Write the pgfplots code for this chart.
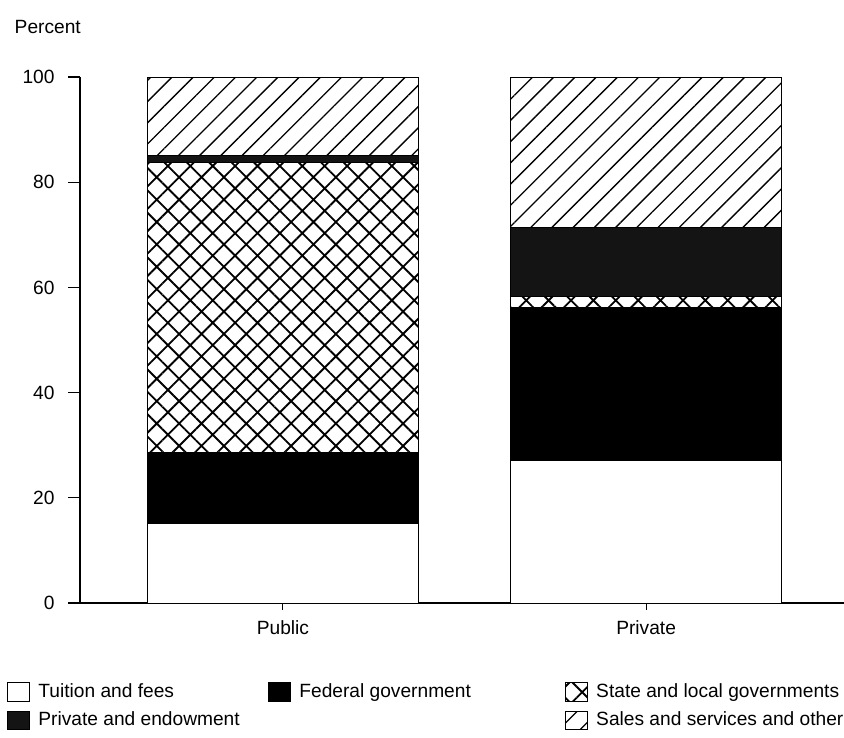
\documentclass[border=0pt]{standalone}
\usepackage{fontspec}
\setmainfont{Liberation Sans}
\usepackage{pgfplots}
\usepackage{pgfplotstable}
\pgfplotsset{compat=1.18}
\usetikzlibrary{patterns.meta}

\pgfplotstableread{
x tuition federal state private sales
0 15.2 13.5 55.1 1.2 15.0
1 27.0 29.1 2.1 13.1 28.7
}\datatable

\begin{document}
\fontsize{11.5}{13.8}\selectfont
\begin{tikzpicture}
\begin{axis}[at={(0,0)}, anchor=south west, scale only axis,
  width=458.4pt, height=315.6pt, clip=false,
  ybar stacked, bar width=163pt,
  xmin=-0.559, xmax=1.545, ymin=0, ymax=100,
  axis x line=bottom, axis y line=left,
  axis line style={-, line width=0.8pt},
  xtick={0,1}, xticklabels={Public,Private},
  ytick={0,20,40,60,80,100},
  tick align=outside,
  ytick style={line width=0.8pt, black},
  xtick style={line width=0.6pt, black},
  y tick style={/pgfplots/major tick length=7pt},
  x tick style={/pgfplots/major tick length=4pt},
  tick label style={font=\fontsize{11.5}{13.8}\selectfont},
  yticklabel style={xshift=-7pt},
  xticklabel style={yshift=-2pt},
  /pgf/number format/assume math mode=true,
  every axis plot/.append style={draw=black, line width=0.6pt},
  legend columns=3,
  legend style={draw=none, fill=none, at={(-0.102,-0.14)}, anchor=north west,
    row sep=3pt, column sep=0pt, font=\fontsize{11.5}{13.8}\selectfont},
  legend cell align=left,
  legend image code/.code={\draw[#1] (0pt,-5.5pt) rectangle (13pt,5.5pt); \path (16pt,0pt);},
]
\addplot[fill=white] table[x=x, y=tuition] {\datatable};
\addlegendentry{\makebox[136pt][l]{Tuition and fees}}
\addplot[fill=black] table[x=x, y=federal] {\datatable};
\addlegendentry{\makebox[157.5pt][l]{Federal government}}
\addplot[pattern={Hatch[angle=45,distance=9.5pt,line width=1.1pt]}] table[x=x, y=state] {\datatable};
\addlegendentry{State and local governments}
\addplot[fill=black!92] table[x=x, y=private] {\datatable};
\addlegendentry{\makebox[136pt][l]{Private and endowment}}
\addlegendimage{empty legend}
\addlegendentry{\makebox[157.5pt][l]{}}
\addplot[pattern={Lines[angle=45,distance=9pt,line width=0.8pt]}] table[x=x, y=sales] {\datatable};
\addlegendentry{Sales and services and other}
\node[anchor=base west, xshift=-43.2pt, yshift=26pt] at (rel axis cs:0,1) {Percent};
\end{axis}
\pgfresetboundingbox
\path[use as bounding box] (-48pt,-80.4pt) rectangle (458.4pt,361.8pt);
\end{tikzpicture}
\end{document}
